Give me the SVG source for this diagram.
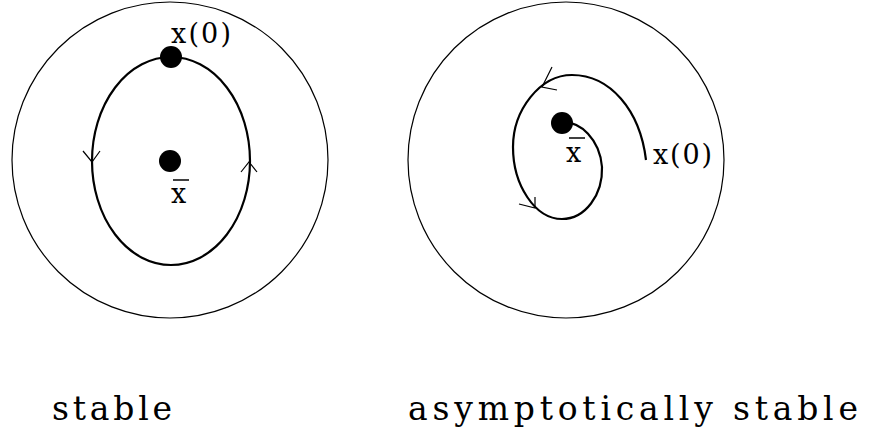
<svg xmlns="http://www.w3.org/2000/svg" width="872" height="436" viewBox="0 0 872 436">
<style>
.bound{fill:none;stroke:#000;stroke-width:1.2}
.traj{fill:none;stroke:#000;stroke-width:2.2}
.head{fill:none;stroke:#000;stroke-width:1.2}
.dot{fill:#000}
.lbl{font-family:"DejaVu Serif","Liberation Serif",serif;fill:#000}
.bar{stroke:#000;stroke-width:1.5}
</style>
<rect width="872" height="436" fill="#fff"/>
<g id="stable-panel">
  <circle id="stable-neighbourhood" class="bound" cx="170" cy="160" r="158"/>
  <ellipse id="stable-orbit" class="traj" cx="171" cy="161" rx="79" ry="104"/>
  <g id="stable-arrows">
    <polyline class="head" points="83,151 92,162 100,151"/>
    <polyline class="head" points="241,172 249,162 257,172"/>
  </g>
  <circle id="stable-x0-dot" class="dot" cx="171" cy="57" r="11"/>
  <circle id="stable-eq-dot" class="dot" cx="170" cy="161" r="11"/>
  <text class="lbl" x="171" y="43" font-size="27" textLength="60" lengthAdjust="spacing">x(0)</text>
  <text class="lbl" x="171" y="203" font-size="27">x</text>
  <line class="bar" x1="173" y1="180" x2="189" y2="180"/>
</g>
<g id="asymptotic-panel">
  <circle id="asym-neighbourhood" class="bound" cx="566" cy="160" r="158"/>
  <path id="asym-spiral" class="traj" d="M562,123 C580,120 600,140 602,167 C603,195 585,219 562,219 C535,219 513,185 513,147 C513,110 540,75 572,75 C610,75 640,110 646,160"/>
  <g id="asym-arrows">
    <polyline class="head" points="552,67 542,87 557,90"/>
    <polyline class="head" points="519,204 535,208 535,197"/>
  </g>
  <circle id="asym-eq-dot" class="dot" cx="562" cy="123" r="11"/>
  <text class="lbl" x="653" y="164" font-size="27" textLength="59" lengthAdjust="spacing">x(0)</text>
  <text class="lbl" x="566" y="162" font-size="27">x</text>
  <line class="bar" x1="569" y1="138" x2="585" y2="138"/>
</g>
<g id="captions">
  <text class="lbl" x="52" y="420" font-size="33" textLength="120" lengthAdjust="spacing">stable</text>
  <text class="lbl" x="408" y="420" font-size="33" textLength="450" lengthAdjust="spacing">asymptotically stable</text>
</g>
</svg>
